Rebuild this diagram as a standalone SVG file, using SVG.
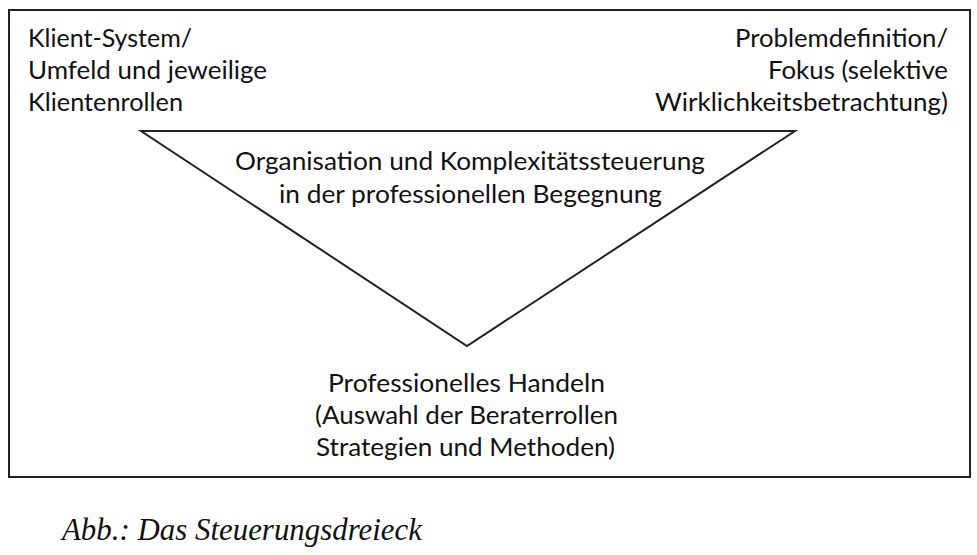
<svg xmlns="http://www.w3.org/2000/svg" width="977" height="555" viewBox="0 0 977 555">
<style>
.t{font-family:Lato,"Open Sans","Liberation Sans",sans-serif;font-size:25px;fill:#111}
.c{font-family:"Liberation Serif",serif;font-style:italic;font-size:31px;fill:#111}
.ln{fill:none;stroke:#222;stroke-width:2}
</style>
<rect width="977" height="555" fill="#fff"/>
<g id="frame"><rect class="ln" x="9" y="10" width="961" height="467"/></g>
<g id="connectors"><polygon class="ln" points="141,131 795,131 467,346"/></g>
<g id="node-left">
<text class="t" x="28" y="47" textLength="164" lengthAdjust="spacingAndGlyphs">Klient-System/</text>
<text class="t" x="28" y="79" textLength="239" lengthAdjust="spacingAndGlyphs">Umfeld und jeweilige</text>
<text class="t" x="28" y="111" textLength="155" lengthAdjust="spacingAndGlyphs">Klientenrollen</text>
</g>
<g id="node-right">
<text class="t" x="735" y="47" textLength="213" lengthAdjust="spacingAndGlyphs">Problemdefinition/</text>
<text class="t" x="768" y="79" textLength="180" lengthAdjust="spacingAndGlyphs">Fokus (selektive</text>
<text class="t" x="655" y="111" textLength="293" lengthAdjust="spacingAndGlyphs">Wirklichkeitsbetrachtung)</text>
</g>
<g id="node-center">
<text class="t" x="235" y="170" textLength="470" lengthAdjust="spacingAndGlyphs">Organisation und Komplexitätssteuerung</text>
<text class="t" x="279" y="203" textLength="383" lengthAdjust="spacingAndGlyphs">in der professionellen Begegnung</text>
</g>
<g id="node-bottom">
<text class="t" x="328" y="392" textLength="277" lengthAdjust="spacingAndGlyphs">Professionelles Handeln</text>
<text class="t" x="315" y="424" textLength="303" lengthAdjust="spacingAndGlyphs">(Auswahl der Beraterrollen</text>
<text class="t" x="316" y="456" textLength="299" lengthAdjust="spacingAndGlyphs">Strategien und Methoden)</text>
</g>
<g id="caption">
<text class="c" x="62" y="540" textLength="360" lengthAdjust="spacingAndGlyphs">Abb.: Das Steuerungsdreieck</text>
</g>
</svg>
